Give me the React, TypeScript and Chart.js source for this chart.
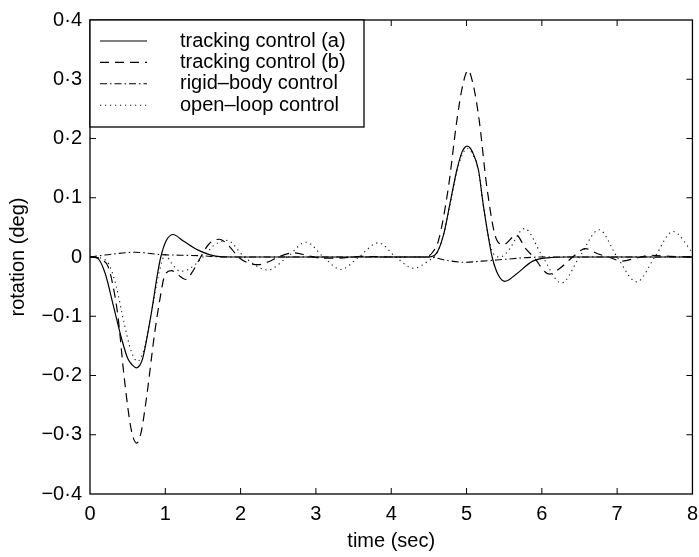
import React, { useEffect, useRef } from "react";
import { Chart, registerables } from "chart.js";

Chart.register(...registerables);

// ---- data (time in s, rotation in deg) ----
const timeA = [0, 0.1, 0.2, 0.31, 0.42, 0.5, 0.56, 0.62, 0.66, 0.7, 0.81, 0.9, 0.94, 1.01, 1.1, 1.25, 1.43, 1.65, 1.9, 4.5, 4.6, 4.7, 4.78, 4.87, 4.94, 5.01, 5.08, 5.16, 5.22, 5.29, 5.34, 5.42, 5.51, 5.65, 5.88, 6.1, 6.3, 8];
const rotA = [0, -0.002, -0.027, -0.082, -0.138, -0.171, -0.182, -0.187, -0.183, -0.171, -0.098, -0.026, 0.0, 0.027, 0.038, 0.026, 0.012, 0.002, 0, 0, 0.006, 0.04, 0.09, 0.146, 0.177, 0.187, 0.177, 0.146, 0.09, 0.034, 0.0, -0.03, -0.041, -0.03, -0.007, -0.001, 0, 0];

const timeB = [0, 0.1, 0.17, 0.24, 0.3, 0.37, 0.46, 0.55, 0.62, 0.68, 0.75, 0.86, 0.93, 0.99, 1.08, 1.17, 1.27, 1.36, 1.47, 1.58, 1.72, 1.85, 1.97, 2.1, 2.24, 2.37, 2.5, 2.71, 2.9, 3.1, 3.3, 3.6, 4.0, 4.45, 4.55, 4.63, 4.76, 4.87, 4.95, 5.02, 5.09, 5.17, 5.27, 5.4, 5.49, 5.66, 5.78, 5.89, 6.1, 6.25, 6.41, 6.58, 6.75, 6.89, 7.06, 7.25, 7.45, 7.7, 8];
const rotB = [0, -0.001, -0.005, -0.016, -0.045, -0.099, -0.21, -0.293, -0.314, -0.295, -0.238, -0.127, -0.07, -0.032, -0.023, -0.03, -0.038, -0.025, 0.0, 0.022, 0.03, 0.018, 0.0, -0.01, -0.013, -0.008, 0.0, 0.007, 0.002, -0.002, -0.002, 0.001, 0, 0, 0.008, 0.029, 0.118, 0.229, 0.29, 0.315, 0.29, 0.229, 0.118, 0.029, 0.021, 0.037, 0.015, 0.0, -0.029, -0.018, 0.0, 0.014, 0.005, 0.0, -0.007, -0.002, 0.003, 0.001, 0];

const timeC = [0, 0.3, 0.6, 0.8, 0.95, 1.2, 1.5, 1.8, 4.5, 4.75, 4.97, 5.2, 5.5, 5.8, 6.0, 8];
const rotC = [0, 0.005, 0.008, 0.006, 0.004, 0.003, 0.002, 0.0, 0.0, -0.006, -0.009, -0.007, -0.004, -0.001, 0, 0];

const timeD = [0, 0.15, 0.25, 0.35, 0.45, 0.55, 0.63, 0.72, 0.82, 0.92, 1.0, 1.08, 1.2, 1.32, 1.5, 1.65, 1.82, 2.05, 2.36, 2.62, 2.87, 3.1, 3.33, 3.57, 3.83, 4.06, 4.3, 4.5, 4.6, 4.7, 4.78, 4.87, 4.94, 5.01, 5.08, 5.16, 5.22, 5.29, 5.36, 5.45, 5.55, 5.77, 6.0, 6.26, 6.5, 6.76, 7.0, 7.26, 7.5, 7.74, 8.0];
const rotD = [0, -0.002, -0.012, -0.05, -0.11, -0.16, -0.176, -0.155, -0.09, -0.025, 0.004, -0.01, -0.024, -0.02, 0.0, 0.02, 0.028, 0.0, -0.022, 0.0, 0.025, 0.0, -0.021, 0.0, 0.024, 0.0, -0.019, -0.006, 0.005, 0.04, 0.088, 0.143, 0.172, 0.183, 0.174, 0.145, 0.09, 0.035, 0.005, 0.0, 0.01, 0.048, 0.003, -0.044, 0.0, 0.046, 0.0, -0.042, 0.0, 0.043, 0.008];

const seriesLabels = ["tracking control (a)", "tracking control (b)", "rigid\u2013body control", "open\u2013loop control"];
const xTickLabels = ["0", "1", "2", "3", "4", "5", "6", "7", "8"];
const yTickLabels = ["\u22120\u00b74", "\u22120\u00b73", "\u22120\u00b72", "\u22120\u00b71", "0", "0\u00b71", "0\u00b72", "0\u00b73", "0\u00b74"];
const xTitle = "time (sec)";
const yTitle = "rotation (deg)";

const FONT = "'Liberation Sans', Arial, Helvetica, sans-serif";
const FS = 20;
const CW = 706;
const CH = 557;

const toPoints = (t: number[], v: number[]) => t.map((x, i) => ({ x, y: v[i] }));

const framePlugin = {
  id: "frameTicksLegend",
  afterDraw(chart: any) {
    const { ctx, chartArea: a, scales } = chart;
    ctx.save();
    ctx.setLineDash([]);
    ctx.strokeStyle = "#000";
    ctx.lineWidth = 1.3;
    ctx.strokeRect(a.left, a.top, a.right - a.left, a.bottom - a.top);
    ctx.lineWidth = 1;
    const tl = 6;
    const seg = (x1: number, y1: number, x2: number, y2: number) => {
      ctx.beginPath();
      ctx.moveTo(x1, y1);
      ctx.lineTo(x2, y2);
      ctx.stroke();
    };
    scales.x.ticks.forEach((t: any) => {
      const px = scales.x.getPixelForValue(t.value);
      if (px <= a.left + 1 || px >= a.right - 1) return;
      seg(px, a.bottom, px, a.bottom - tl);
      seg(px, a.top, px, a.top + tl);
    });
    scales.y.ticks.forEach((t: any) => {
      const py = scales.y.getPixelForValue(t.value);
      if (py <= a.top + 1 || py >= a.bottom - 1) return;
      seg(a.left, py, a.left + tl, py);
      seg(a.right, py, a.right - tl, py);
    });

    // legend box
    const lx = a.left, ly = a.top, lw = 274, lh = 107;
    ctx.fillStyle = "#fff";
    ctx.fillRect(lx, ly, lw, lh);
    ctx.lineWidth = 1.3;
    ctx.strokeRect(lx, ly, lw, lh);
    ctx.font = `${FS}px ${FONT}`;
    ctx.textBaseline = "middle";
    ctx.textAlign = "left";
    chart.data.datasets.forEach((ds: any, i: number) => {
      const ry = ly + 21 + i * 21.4;
      ctx.strokeStyle = ds.borderColor;
      ctx.lineWidth = ds.borderWidth;
      ctx.setLineDash(ds.borderDash || []);
      seg(lx + 10, ry, lx + 57, ry);
      ctx.setLineDash([]);
      ctx.fillStyle = "#000";
      ctx.fillText(ds.label, lx + 90, ry);
    });
    ctx.restore();
  },
};

export default function App() {
  const ref = useRef<HTMLCanvasElement | null>(null);
  useEffect(() => {
    if (!ref.current) return;
    const chart = new Chart(ref.current, {
      type: "line",
      data: {
        datasets: [
          { label: seriesLabels[0], data: toPoints(timeA, rotA), borderColor: "#000", borderWidth: 1.2, borderDash: [] },
          { label: seriesLabels[1], data: toPoints(timeB, rotB), borderColor: "#000", borderWidth: 1.2, borderDash: [9, 6] },
          { label: seriesLabels[2], data: toPoints(timeC, rotC), borderColor: "#000", borderWidth: 1.1, borderDash: [7, 3, 1.5, 3] },
          { label: seriesLabels[3], data: toPoints(timeD, rotD), borderColor: "#111", borderWidth: 1.1, borderDash: [1.2, 3.8] },
        ] as any,
      },
      options: {
        animation: false,
        responsive: false,
        devicePixelRatio: 1,
        parsing: true,
        layout: { padding: { left: 0, top: 14, right: CW - 697.7, bottom: 0 } },
        elements: {
          point: { radius: 0 },
          line: { fill: false, cubicInterpolationMode: "monotone" } as any,
        },
        plugins: { legend: { display: false }, tooltip: { enabled: false } },
        scales: {
          x: {
            type: "linear",
            min: 0,
            max: 8,
            grid: { display: false, drawTicks: false },
            border: { display: false },
            ticks: {
              stepSize: 1,
              padding: 8,
              color: "#000",
              font: { family: FONT, size: FS },
              maxRotation: 0,
              autoSkip: false,
              callback: (v: any) => xTickLabels[Math.round(Number(v))],
            },
            title: { display: true, text: xTitle, color: "#000", font: { family: FONT, size: FS }, padding: { top: 0, bottom: 4 } },
            afterFit: (s: any) => { s.height = CH - 494; },
          },
          y: {
            type: "linear",
            min: -0.4,
            max: 0.4,
            grid: { display: false, drawTicks: false },
            border: { display: false },
            ticks: {
              stepSize: 0.1,
              padding: 8,
              color: "#000",
              font: { family: FONT, size: FS },
              autoSkip: false,
              callback: (v: any) => yTickLabels[Math.round(Number(v) * 10) + 4],
            },
            title: { display: true, text: yTitle, color: "#000", font: { family: FONT, size: FS }, padding: { top: 6, bottom: 0 } },
            afterFit: (s: any) => { s.width = 90; },
          },
        },
      } as any,
      plugins: [framePlugin],
    });
    return () => chart.destroy();
  }, []);
  return (
    <div style={{ position: "fixed", left: 0, top: 0, width: 699, height: 557, overflow: "hidden", background: "#fff" }}>
      <canvas ref={ref} width={CW} height={CH} style={{ width: CW, height: CH, display: "block" }} />
    </div>
  );
}
